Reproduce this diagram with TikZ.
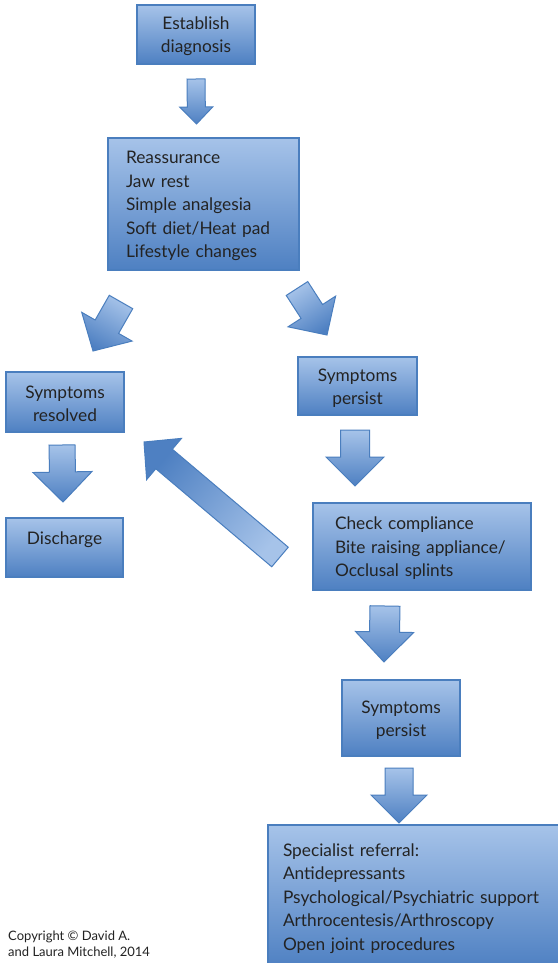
\documentclass[tikz,border=0pt]{standalone}
\usepackage{fontspec}
\setmainfont{Lato}
\usetikzlibrary{calc}
\definecolor{boxtop}{RGB}{166,195,233}
\definecolor{boxbot}{RGB}{78,128,194}
\definecolor{boxline}{RGB}{74,126,190}
\definecolor{txt}{RGB}{35,35,35}
\newcommand{\mystrut}{\rule{0pt}{16.5pt}}
\newcommand{\blockarr}[6]{%
  \coordinate (hb) at ($(#2)!#5!(#1)$);
  \shadedraw[arrowstyle, shading angle=#6]
    ($(#1)!#3!90:(#2)$) -- ($(hb)!#3!90:(#2)$) -- ($(hb)!#4!90:(#2)$) -- (#2)
    -- ($(hb)!#4!-90:(#2)$) -- ($(hb)!#3!-90:(#2)$) -- ($(#1)!#3!-90:(#2)$) -- cycle;}
\tikzset{
  box/.style={draw=boxline, line width=1.2pt, top color=boxtop, bottom color=boxbot,
    text=txt, inner sep=0pt, font=\fontsize{17.3}{23.5}\selectfont},
  cbox/.style={box, align=center},
  lbox/.style={box, align=left},
  arrowstyle/.style={draw=boxline, line width=1pt, top color=boxtop, bottom color=boxbot, line join=miter},
}
\begin{document}
\begin{tikzpicture}[x=1pt, y=-1pt]
\useasboundingbox[fill=white] (0,0) rectangle (557,963);

% boxes
\node[cbox, minimum width=118pt, minimum height=59pt] (est) at (196,34.5) {\mystrut Establish\\diagnosis};
\node[lbox, minimum height=132pt, text width=155pt, inner xsep=18pt] (reas) at (203.5,204)
  {\mystrut Reassurance\\Jaw rest\\Simple analgesia\\Soft diet/Heat pad\\Lifestyle changes};
\node[cbox, minimum width=118pt, minimum height=60pt] (res) at (65,402) {\mystrut Symptoms\\resolved};
\node[cbox, minimum width=119pt, minimum height=58pt] (pers1) at (357.5,386) {\mystrut Symptoms\\persist};
\node[box, minimum width=117pt, minimum height=59pt, text height=12pt, text depth=19pt] (dis) at (64.5,547.5) {Discharge};
\node[lbox, minimum height=87pt, text width=174pt, inner xsep=22pt] (check) at (422,546.5)
  {\mystrut Check compliance\\Bite raising appliance/\\Occlusal splints};
\node[cbox, minimum width=118pt, minimum height=76pt] (pers2) at (401,718) {\mystrut Symptoms\\persist};
\node[lbox, minimum height=143pt, text width=264pt, inner xsep=15pt] (spec) at (415,896.5)
  {\mystrut Specialist referral:\\Antidepressants\\Psychological/Psychiatric support\\Arthrocentesis/Arthroscopy\\Open joint procedures};

% copyright
\node[anchor=west, align=left, inner sep=0pt, text=txt, font=\fontsize{13}{16}\selectfont] (copy) at (8,945)
  {Copyright © David A.\\and Laura Mitchell, 2014};

% arrow end points
\coordinate (a1t) at (196,79);   \coordinate (a1h) at (196.5,124);
\coordinate (a2t) at (121,302);  \coordinate (a2h) at (93,351);
\coordinate (a3t) at (297,288.5);\coordinate (a3h) at (327,335);
\coordinate (a4t) at (62,445);   \coordinate (a4h) at (63,502);
\coordinate (a5t) at (355,430);  \coordinate (a5h) at (355,486);
\coordinate (a6t) at (280,557);  \coordinate (a6h) at (144,442);
\coordinate (a7t) at (385,606);  \coordinate (a7h) at (384,662);
\coordinate (a8t) at (399,768);  \coordinate (a8h) at (399,823);

\blockarr{a1t}{a1h}{9pt}{16.5pt}{17pt}{0}
\blockarr{a2t}{a2h}{13.5pt}{29pt}{28pt}{-30}
\blockarr{a3t}{a3h}{12.8pt}{28.3pt}{28pt}{33}
\blockarr{a4t}{a4h}{13pt}{29.5pt}{30pt}{0}
\blockarr{a5t}{a5h}{14.5pt}{29pt}{29pt}{0}
\blockarr{a6t}{a6h}{12.8pt}{27pt}{26.3pt}{-130}
\blockarr{a7t}{a7h}{15pt}{29pt}{30pt}{0}
\blockarr{a8t}{a8h}{14pt}{28pt}{28pt}{0}
\end{tikzpicture}
\end{document}
